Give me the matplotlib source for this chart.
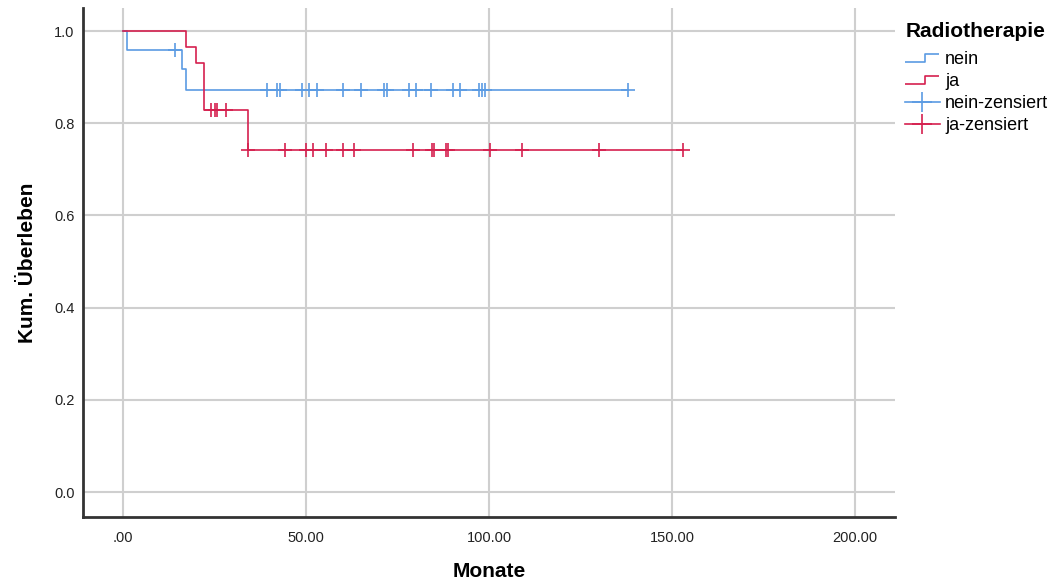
import matplotlib
matplotlib.use("Agg")
import matplotlib.pyplot as plt
from matplotlib.lines import Line2D
from matplotlib.path import Path

# Kaplan-Meier Stufen (Zeit in Monaten, kum. Überleben)
nein_zeit = [0, 1.0, 16.0, 17.1, 138.0]
nein_surv = [1.0, 0.958, 0.917, 0.873, 0.873]
ja_zeit = [0, 17.1, 20.0, 22.1, 34.0, 153.0]
ja_surv = [1.0, 0.966, 0.931, 0.828, 0.742, 0.742]

# zensierte Fälle
nein_zens_zeit = [14.2, 39.2, 42.1, 42.9, 48.9, 50.9, 53.1, 60.0, 65.1,
                  71.2, 72.1, 78.1, 80.1, 84.1, 90.2, 92.0, 97.3, 98.1,
                  99.0, 138.0]
nein_zens_surv = [0.958] + [0.873] * 19
ja_zens_zeit = [24.1, 25.0, 25.7, 28.2, 34.2, 44.1, 50.1, 52.0, 55.3,
                60.1, 63.1, 79.1, 84.3, 84.9, 88.2, 88.9, 100.2, 109.1,
                130.0, 153.1]
ja_zens_surv = [0.828] * 4 + [0.742] * 16

x_ticks = [0, 50, 100, 150, 200]
x_labels = [".00", "50.00", "100.00", "150.00", "200.00"]
y_ticks = [0.0, 0.2, 0.4, 0.6, 0.8, 1.0]
y_labels = ["0.0", "0.2", "0.4", "0.6", "0.8", "1.0"]

blau = "#5b9be3"
rot = "#d5204f"

plt.rcParams['font.family'] = ['Liberation Sans', 'DejaVu Sans']

fig = plt.figure(figsize=(10.54, 5.85), dpi=100)
ax = fig.add_axes([0.0787, 0.1162, 0.7706, 0.8701])

ax.step(nein_zeit, nein_surv, where='post', color=blau, lw=1.2, zorder=3)
ax.step(ja_zeit, ja_surv, where='post', color=rot, lw=1.2, zorder=3)
ax.plot(nein_zens_zeit, nein_zens_surv, ls='none', marker='+', ms=10,
        mew=1.2, color=blau, zorder=4)
ax.plot(ja_zens_zeit, ja_zens_surv, ls='none', marker='+', ms=10,
        mew=1.2, color=rot, zorder=4)

ax.set_xlim(-11, 211)
ax.set_ylim(-0.054, 1.05)
ax.set_xticks(x_ticks)
ax.set_xticklabels(x_labels)
ax.set_yticks(y_ticks)
ax.set_yticklabels(y_labels)
ax.tick_params(length=0, labelsize=10.5, labelcolor='#222222')
ax.tick_params(axis='x', pad=10)
ax.tick_params(axis='y', pad=6)
ax.grid(True, color='#cfcfcf', lw=1.5, zorder=0)
ax.set_axisbelow(True)

for s in ['top', 'right']:
    ax.spines[s].set_visible(False)
for s in ['left', 'bottom']:
    ax.spines[s].set_color('#333333')
    ax.spines[s].set_linewidth(2)

ax.set_xlabel("Monate", fontsize=15, fontweight='bold', labelpad=12)
ax.set_ylabel("Kum. Überleben", fontsize=15, fontweight='bold', labelpad=12)

# Legende mit Stufen-Symbol
stufe = Path([(-1, -0.25), (0.2, -0.25), (0.2, 0.25), (1, 0.25)],
             [Path.MOVETO, Path.LINETO, Path.LINETO, Path.LINETO])
handles = [
    Line2D([], [], ls='none', marker=stufe, ms=24, mfc='none', mec=blau, mew=1.2),
    Line2D([], [], ls='none', marker=stufe, ms=24, mfc='none', mec=rot, mew=1.2),
    Line2D([], [], color=blau, lw=1.2, marker='+', ms=14, mew=1.2),
    Line2D([], [], color=rot, lw=1.2, marker='+', ms=14, mew=1.2),
]
leg = fig.legend(handles, ["nein", "ja", "nein-zensiert", "ja-zensiert"],
                 title="Radiotherapie", loc='upper left',
                 bbox_to_anchor=(0.852, 0.9754), frameon=False,
                 fontsize=13, handlelength=1.9, handletextpad=0.3,
                 labelspacing=0.285, borderaxespad=0)
leg.get_title().set_fontweight('bold')
leg.get_title().set_fontsize(15)
leg._legend_box.align = "left"
leg._legend_box.sep = 7.5

fig.savefig("out.png", dpi=100)
